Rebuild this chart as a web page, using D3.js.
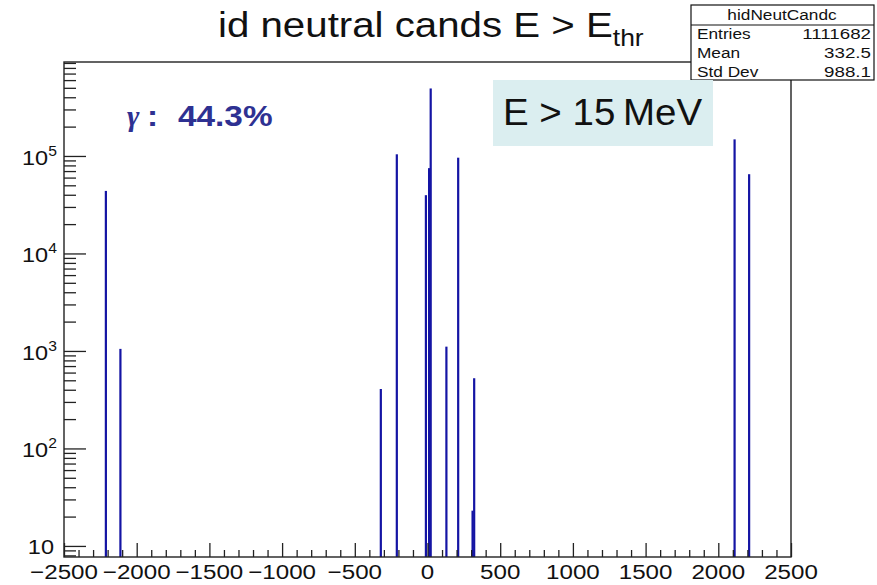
<!DOCTYPE html>
<html>
<head>
<meta charset="utf-8">
<script src="https://cdn.jsdelivr.net/npm/d3@7"></script>
<style>
  html, body { margin: 0; padding: 0; background: #fff; }
  svg { display: block; font-family: "Liberation Sans", Arial, Helvetica, sans-serif; }
</style>
</head>
<body>
<svg id="chart" width="877" height="585"></svg>
<script>
// PDG ids of the truth particles matched to neutral candidates
const pdgIds = [-2212, -2112, -321, -211, -11, 22, 11, 130, 211, 310, 321, 2112, 2212];
// candidates per id (log-scale counts)
const counts = [43800, 1050, 407, 104000, 39600, 492475, 75000, 1107, 96000, 23, 525, 148000, 65000];

const xTickValues = [-2500, -2000, -1500, -1000, -500, 0, 500, 1000, 1500, 2000, 2500];
const yDecades = [10, 100, 1000, 10000, 100000];

const stats = [["Entries", "1111682"], ["Mean", "332.5"], ["Std Dev", "988.1"]];

const svg = d3.select("#chart");
const frame = { left: 64, right: 791, top: 62, bottom: 557 };

const x = d3.scaleLinear().domain([-2500, 2500]).range([frame.left, frame.right]);
const y = d3.scaleLog().domain([7.7, 9.2e5]).range([frame.bottom, frame.top]);

// text placed at (px, py), widened horizontally by sx
function label(parent, px, py, sx, size, anchor) {
  return parent.append("text")
    .attr("transform", `translate(${px},${py}) scale(${sx},1)`)
    .attr("font-size", size)
    .attr("text-anchor", anchor || "start")
    .attr("fill", "#111");
}

// histogram spikes
svg.append("g")
  .selectAll("rect")
  .data(pdgIds.map((id, i) => ({ id, n: counts[i] })))
  .join("rect")
  .attr("x", d => x(d.id) - 1.1)
  .attr("width", 2.2)
  .attr("y", d => y(d.n))
  .attr("height", d => frame.bottom - y(d.n))
  .attr("fill", "#1414a4");

// x axis: major ticks every 500, minor every 100, pointing inward
const xMinor = d3.range(-2500, 2501, 100).filter(v => v % 500 !== 0);
const xAxisMajor = d3.axisTop(x).tickValues(xTickValues).tickSize(14).tickFormat("");
const xAxisMinor = d3.axisTop(x).tickValues(xMinor).tickSize(7).tickFormat("");
[xAxisMajor, xAxisMinor].forEach(ax => {
  const g = svg.append("g").attr("transform", `translate(0,${frame.bottom})`).call(ax);
  g.select(".domain").remove();
  g.selectAll("line").attr("stroke", "#222").attr("stroke-width", 1.3);
});
const xl = svg.append("g");
xTickValues.forEach(v => {
  label(xl, x(v), 579, 1.15, 21, "middle")
    .text(v < 0 ? "\u2212" + Math.abs(v) : String(v));
});

// y axis: log decades with 2..9 sub-ticks, pointing inward
const yMinor = [];
[1, 10, 100, 1000, 10000, 100000].forEach(dec => {
  for (let k = 2; k <= 9; k++) {
    const v = dec * k;
    if (v >= y.domain()[0] && v <= y.domain()[1]) yMinor.push(v);
  }
});
const yAxisMajor = d3.axisRight(y).tickValues(yDecades).tickSize(22).tickFormat("");
const yAxisMinor = d3.axisRight(y).tickValues(yMinor).tickSize(12).tickFormat("");
[yAxisMajor, yAxisMinor].forEach(ax => {
  const g = svg.append("g").attr("transform", `translate(${frame.left},0)`).call(ax);
  g.select(".domain").remove();
  g.selectAll("line").attr("stroke", "#222").attr("stroke-width", 1.3);
});
const yl = svg.append("g");
yDecades.forEach(v => {
  if (v === 10) {
    label(yl, 54, y(v) + 8, 1.12, 21, "end").text("10");
  } else {
    const t = label(yl, 22, y(v) + 9, 1.12, 21, "start");
    t.append("tspan").text("10");
    t.append("tspan").attr("font-size", 14).attr("dy", -9)
      .text(String(Math.round(Math.log10(v))));
  }
});

// plot frame
svg.append("rect")
  .attr("x", frame.left).attr("y", frame.top)
  .attr("width", frame.right - frame.left).attr("height", frame.bottom - frame.top)
  .attr("fill", "none").attr("stroke", "#222").attr("stroke-width", 1.4);

// title
const title = label(svg, 218, 37, 1.15, 35, "start");
title.append("tspan").text("id neutral cands E > E");
title.append("tspan").attr("font-size", 23).attr("dy", 9).text("thr");

// statistics box
const sb = svg.append("g");
sb.append("rect").attr("x", 691).attr("y", 5).attr("width", 183).attr("height", 75)
  .attr("fill", "#fff").attr("stroke", "#111").attr("stroke-width", 1.2);
sb.append("line").attr("x1", 691).attr("x2", 874).attr("y1", 25).attr("y2", 25)
  .attr("stroke", "#111").attr("stroke-width", 1.2);
label(sb, 782, 20, 1.15, 15, "middle").text("hidNeutCandc");
stats.forEach(([k, v], i) => {
  label(sb, 697, 39 + i * 19, 1.15, 15, "start").text(k);
  label(sb, 871, 39 + i * 19, 1.25, 15, "end").text(v);
});

// photon fraction label
const fracColor = "#2e3192";
label(svg, 127, 126, 1.0, 30, "start")
  .attr("font-family", "'Liberation Serif', 'DejaVu Serif', serif")
  .attr("font-style", "italic").attr("font-weight", "bold")
  .attr("fill", fracColor).text("\u03b3");
label(svg, 147, 126, 1.15, 29, "start")
  .attr("font-weight", "bold").attr("fill", fracColor).text(":");
label(svg, 178, 126, 1.15, 29, "start")
  .attr("font-weight", "bold").attr("fill", fracColor).text("44.3%");

// energy threshold box
svg.append("rect").attr("x", 493).attr("y", 80).attr("width", 220).attr("height", 66)
  .attr("fill", "#dbeef0");
label(svg, 503, 125, 1.04, 37, "start").text("E > 15\u2009MeV");
</script>
</body>
</html>
